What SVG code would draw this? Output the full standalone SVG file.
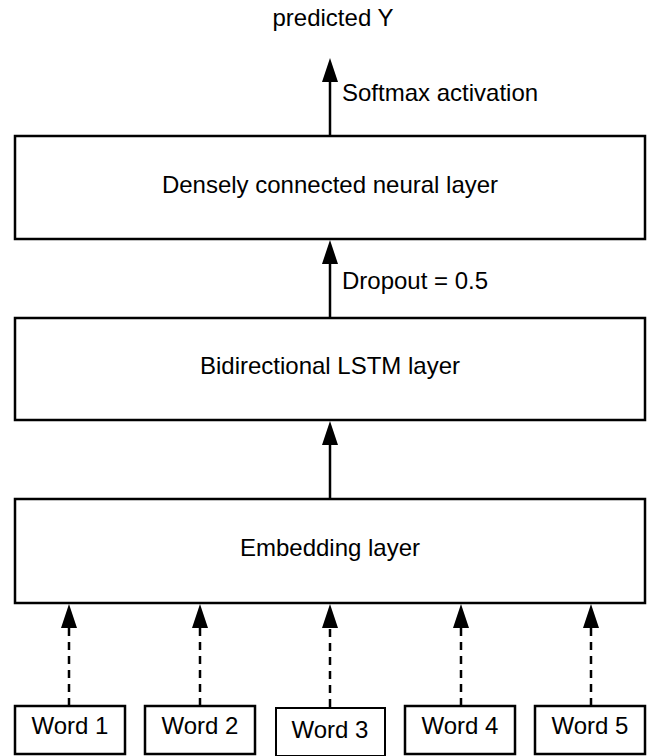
<svg xmlns="http://www.w3.org/2000/svg" width="649" height="756" viewBox="0 0 649 756">
<style>
.box{fill:#fff;stroke:#000;stroke-width:2.5}
.t{font-family:"Liberation Sans",Arial,sans-serif;font-size:24px;fill:#000}
.c{text-anchor:middle}
.ln{stroke:#000;stroke-width:2.5;fill:none}
.d{stroke-dasharray:8,6}
.ah{fill:#000}
</style>
<rect width="649" height="756" fill="#fff"/>
<g id="connectors">
<line class="ln" x1="330" y1="136" x2="330" y2="70"/>
<line class="ln" x1="330" y1="318" x2="330" y2="252"/>
<line class="ln" x1="330" y1="499" x2="330" y2="433"/>
<line class="ln d" x1="69" y1="706" x2="69" y2="616"/>
<line class="ln d" x1="200" y1="706" x2="200" y2="616"/>
<line class="ln d" x1="330" y1="707" x2="330" y2="616"/>
<line class="ln d" x1="461" y1="706" x2="461" y2="616"/>
<line class="ln d" x1="591" y1="706" x2="591" y2="616"/>
<path class="ah" d="M322,82 L330,58 L338,82 Z M322,264 L330,240 L338,264 Z M322,445 L330,421 L338,445 Z M61,628 L69,604 L77,628 Z M192,628 L200,604 L208,628 Z M322,628 L330,604 L338,628 Z M453,628 L461,604 L469,628 Z M583,628 L591,604 L599,628 Z"/>
<text class="t" x="342" y="101">Softmax activation</text>
<text class="t" x="342" y="289">Dropout = 0.5</text>
</g>
<g id="predicted"><text class="t c" x="333" y="26">predicted Y</text></g>
<g id="dense"><rect class="box" x="15" y="136" width="630" height="103"/><text class="t c" x="330" y="193">Densely connected neural layer</text></g>
<g id="lstm"><rect class="box" x="15" y="318" width="630" height="102"/><text class="t c" x="330" y="374">Bidirectional LSTM layer</text></g>
<g id="embedding"><rect class="box" x="15" y="499" width="630" height="104"/><text class="t c" x="330" y="556">Embedding layer</text></g>
<g id="word1"><rect class="box" x="15" y="706" width="110" height="48"/><text class="t c" x="70" y="734">Word 1</text></g>
<g id="word2"><rect class="box" x="145" y="706" width="110" height="48"/><text class="t c" x="200" y="734">Word 2</text></g>
<g id="word3"><rect class="box" x="276" y="708" width="109" height="48" style="stroke-width:2"/><text class="t c" x="330" y="738">Word 3</text></g>
<g id="word4"><rect class="box" x="405" y="706" width="110" height="48"/><text class="t c" x="460" y="734">Word 4</text></g>
<g id="word5"><rect class="box" x="535" y="706" width="110" height="48"/><text class="t c" x="590" y="734">Word 5</text></g>
</svg>
